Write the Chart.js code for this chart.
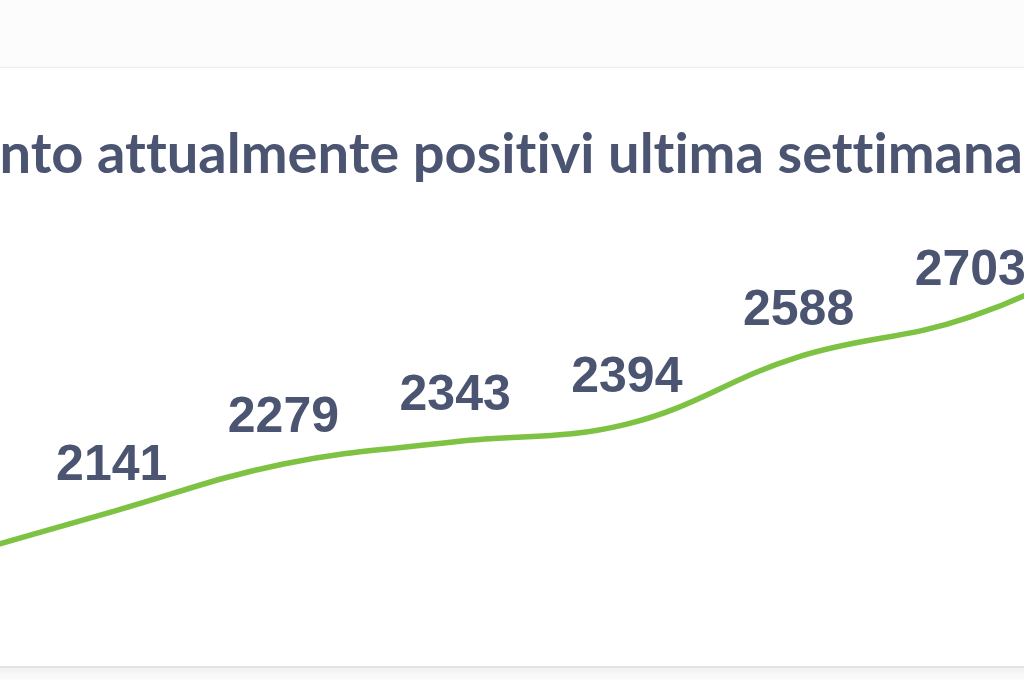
<!DOCTYPE html>
<html lang="it">
<head>
<meta charset="utf-8">
<title>Andamento attualmente positivi ultima settimana</title>
<script src="https://cdn.jsdelivr.net/npm/chart.js@4/dist/chart.umd.min.js"></script>
<style>
    html, body { margin: 0; padding: 0; width: 1024px; height: 680px; overflow: hidden; background: #fcfcfc; }
    .card {
        position: absolute; left: -20px; top: 67px; width: 1064px; height: 598px;
        background: #fff;
        border-top: 1px solid #efefef;
        border-bottom: 2px solid #e3e3e3;
        box-shadow: 0 5px 9px rgba(0, 0, 0, .05);
    }
    .title {
        position: absolute; right: 1px; top: 118px;
        font: 700 56px/1.2 Lato, sans-serif; color: #4b5571;
        font-variant-ligatures: none; font-feature-settings: "liga" 0;
        white-space: nowrap; margin: 0;
    }
    #chart-wrap { position: absolute; left: -120px; top: 0; width: 1320px; height: 680px; }
</style>
</head>
<body>
<div class="card"></div>
<h1 class="title">Andamento attualmente positivi ultima settimana</h1>
<div id="chart-wrap"><canvas id="positivi"></canvas></div>

<script>
    'use strict';

    // dati: attualmente positivi, ultimi 8 giorni (primo e ultimo fuori inquadratura)
    const giorni = ['G1', 'G2', 'G3', 'G4', 'G5', 'G6', 'G7', 'G8'];
    const positivi = [1999, 2141, 2279, 2343, 2394, 2588, 2703, 2930];

    // asse y nascosto
    const yMin = 1800;
    const yMax = 3000;

    const green = '#7dc242';
    const labelColor = '#4b5571';

    // Etichette valore sopra ogni punto (niente plugin datalabels offline).
    const valueLabels = {
        id: 'valueLabels',
        afterDatasetsDraw(chart) {
            const ctx = chart.ctx;
            const meta = chart.getDatasetMeta(0);
            ctx.save();
            ctx.font = 'bold 50px "Liberation Sans", Arial, sans-serif';
            ctx.fillStyle = labelColor;
            ctx.textAlign = 'center';
            ctx.textBaseline = 'alphabetic';
            meta.data.forEach(function (pt, i) {
                ctx.fillText(String(positivi[i]), pt.x, pt.y - 32);
            });
            ctx.restore();
        }
    };

    new Chart(document.getElementById('positivi'), {
        type: 'line',
        data: {
            labels: giorni,
            datasets: [{
                data: positivi,
                borderColor: green,
                borderWidth: 5.5,
                tension: 0.4,
                pointRadius: 0,
                fill: false
            }]
        },
        options: {
            responsive: true,
            maintainAspectRatio: false,
            animation: false,
            layout: { padding: { top: 214, bottom: 50, left: 60, right: 58 } },
            plugins: {
                legend: { display: false },
                tooltip: { enabled: false },
                title: { display: false }
            },
            scales: {
                x: { display: false, offset: false },
                y: { display: false, min: yMin, max: yMax }
            }
        },
        plugins: [valueLabels]
    });
</script>
</body>
</html>
